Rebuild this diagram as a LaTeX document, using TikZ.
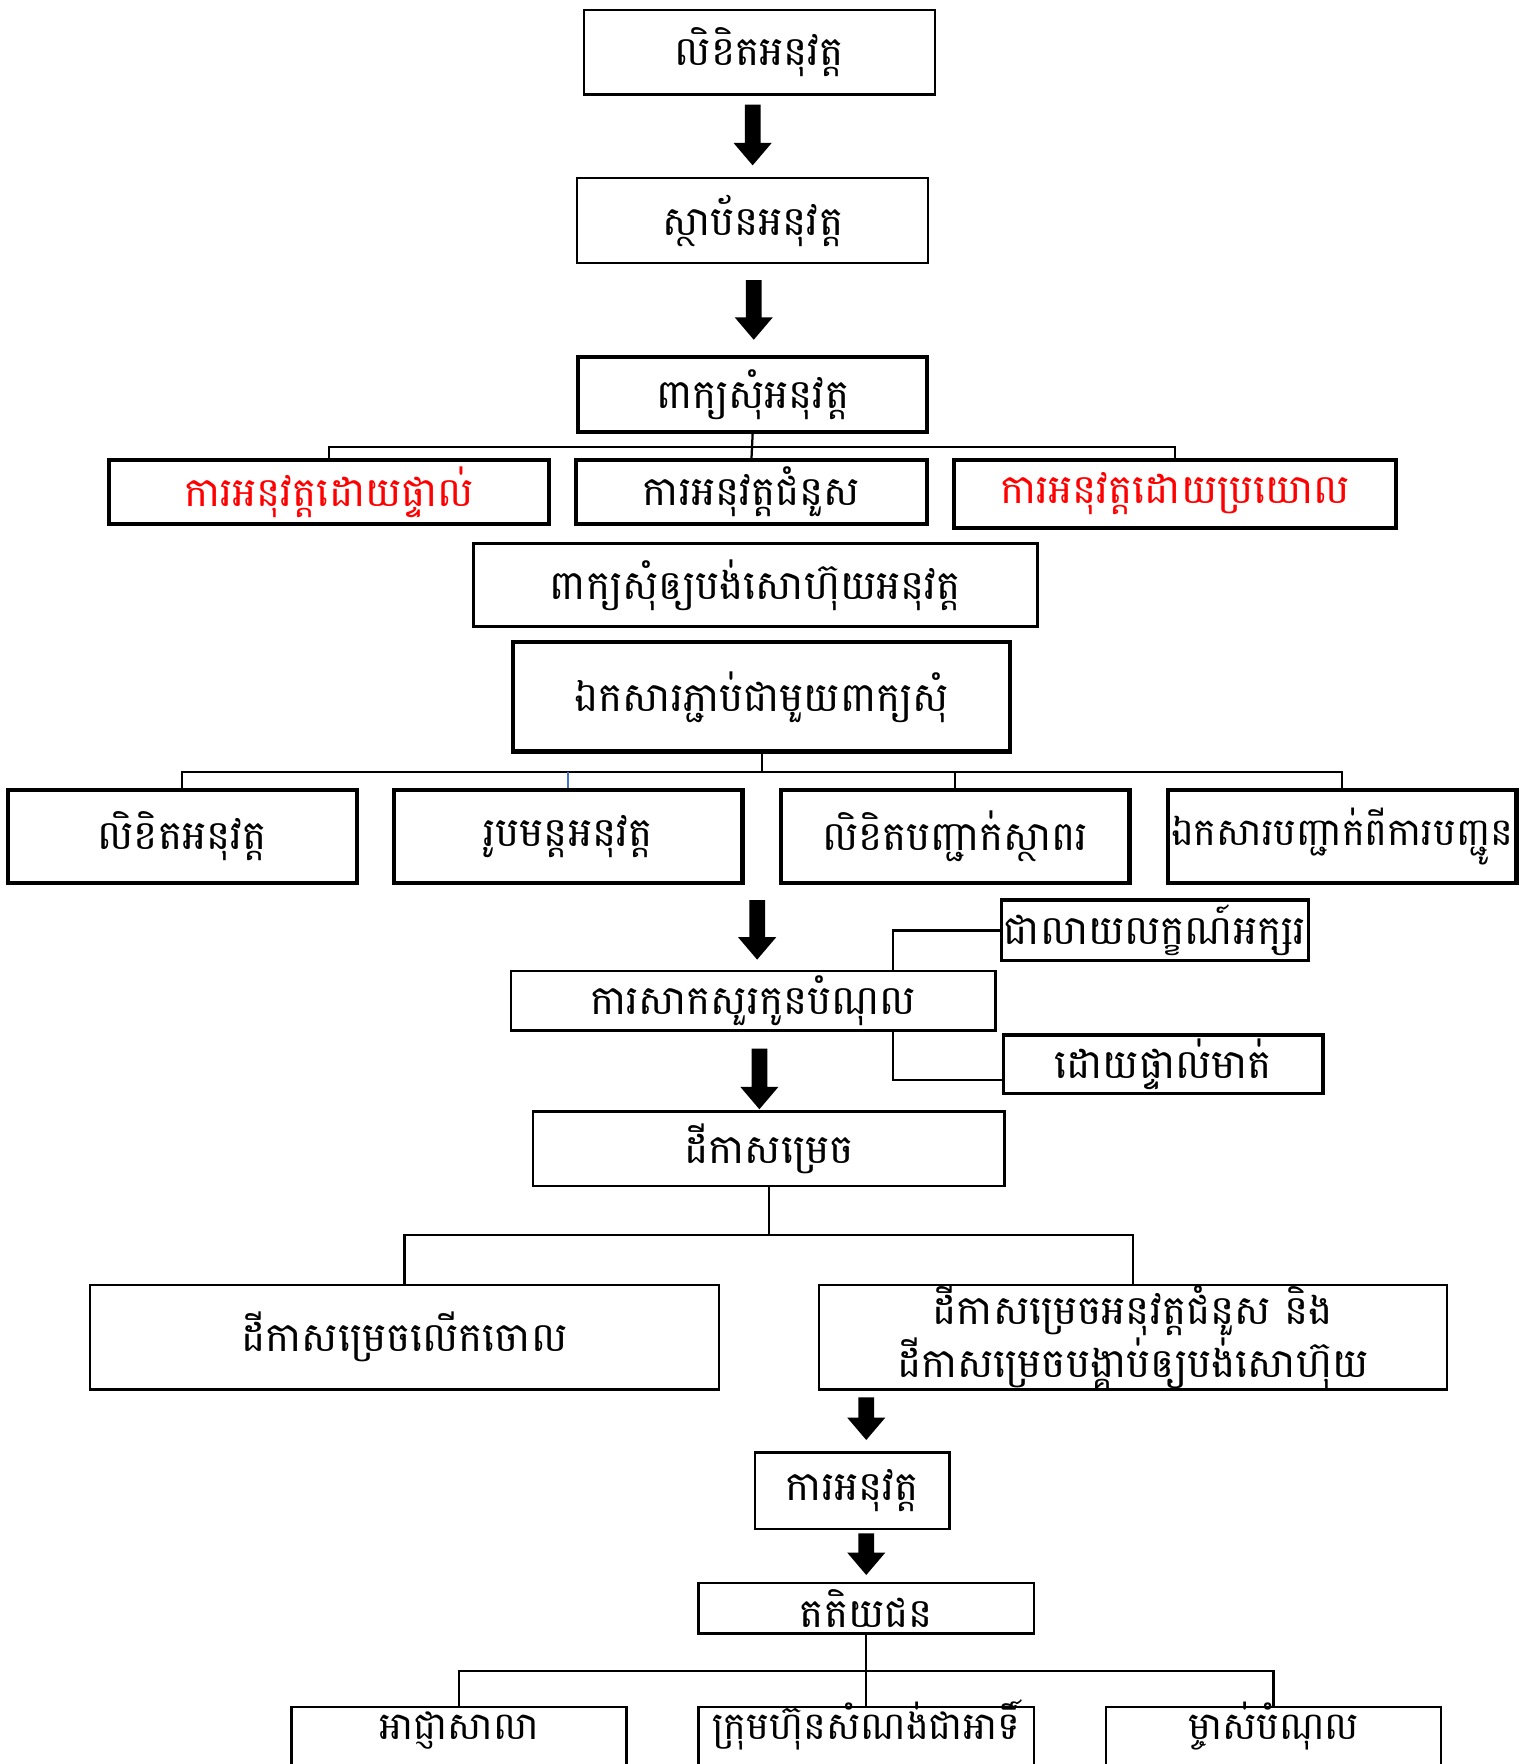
\documentclass[tikz,border=0pt]{standalone}
\usepackage{fontspec}
\newfontfamily\kh[Script=Khmer]{Battambang}
\usetikzlibrary{calc}
\definecolor{kred}{RGB}{255,0,0}
\definecolor{kblue}{RGB}{68,114,196}
\tikzset{
  box/.style={draw=black, line width=1.1pt, fill=white, inner sep=0pt, align=center,
              font=\kh\fontsize{18}{23.5}\selectfont},
  thickbox/.style={box, line width=1.8pt},
  midbox/.style={box, line width=1.4pt},
  conn/.style={draw=black, line width=1pt},
  redtext/.style={text=kred},
}
\newcommand{\blkarrow}[3]{% x, ytop, ybottom
  \fill[black] (#1-7,#2) -- (#1+7,#2) -- (#1+7,#3-20) -- (#1+17,#3-20) -- (#1,#3) -- (#1-17,#3-20) -- (#1-7,#3-20) -- cycle;}
\begin{document}
\begin{tikzpicture}[x=0.5pt,y=-0.5pt]
\useasboundingbox (0,0) rectangle (1360,1568);
\clip (0,0) rectangle (1360,1568);
% top chain
\node[box, minimum width=156pt, minimum height=37.5pt] (A) at (675,46.5) {លិខិតអនុវត្ត};
\node[box, minimum width=156pt, minimum height=38pt] (B) at (669,196) {ស្ថាប័នអនុវត្ត};
\node[thickbox, minimum width=155pt, minimum height=33.5pt] (C) at (669,350.5) {ពាក្យសុំអនុវត្ត};
\blkarrow{669}{93}{147}
\blkarrow{670}{249}{302}
% three types
\node[thickbox, redtext, minimum width=195.5pt, minimum height=28.5pt] (D1) at (292.5,437.5) {ការអនុវត្តដោយផ្ទាល់};
\node[thickbox, minimum width=156pt, minimum height=28.5pt] (D2) at (668,437.5) {ការអនុវត្តជំនួស};
\node[thickbox, redtext, minimum width=196.5pt, minimum height=30pt] (D3) at (1044.5,439) {ការអនុវត្តដោយប្រយោល};
\coordinate (yCD) at (0,397);
\draw[conn] (C.south) -- (D2.north);
\draw[conn] (D1.north) -- (D1.north |- yCD) -- (D3.north |- yCD) -- (D3.north);
% request for fee
\node[box, minimum width=250.5pt, minimum height=37pt] (E) at (671.5,520) {ពាក្យសុំឲ្យបង់សោហ៊ុយអនុវត្ត};
\node[thickbox, minimum width=221pt, minimum height=48.5pt] (F) at (677,619.5) {ឯកសារភ្ជាប់ជាមួយពាក្យសុំ};
% attachments
\node[thickbox, minimum width=155pt, minimum height=41.5pt] (G1) at (162,743.5) {លិខិតអនុវត្ត};
\node[thickbox, minimum width=155pt, minimum height=41.5pt] (G2) at (505,743.5) {រូបមន្តអនុវត្ត};
\node[thickbox, minimum width=155pt, minimum height=41.5pt] (G3) at (849,743.5) {លិខិតបញ្ជាក់ស្ថាពរ};
\node[thickbox, minimum width=155pt, minimum height=41.5pt, font=\kh\fontsize{17}{23.5}\selectfont] (G4) at (1193,743.5) {ឯកសារបញ្ជាក់ពីការបញ្ជូន};
\coordinate (yFG) at (0,686);
\draw[conn] (F.south) -- (F.south |- yFG);
\draw[conn] (G1.north) -- (G1.north |- yFG) -- (G4.north |- yFG) -- (G4.north);
\draw[conn] (G3.north) -- (G3.north |- yFG);
\draw[draw=kblue, line width=0.6pt] (G2.north) -- (G2.north |- yFG);
% questioning
\blkarrow{673}{800}{853}
\node[box, minimum width=215.5pt, minimum height=26.5pt] (H) at (669.5,889.5) {ការសាកសួរកូនបំណុល};
\node[midbox, minimum width=136.5pt, minimum height=27pt] (H1) at (1026.5,827) {ជាលាយលក្ខណ៍អក្សរ};
\node[midbox, minimum width=142pt, minimum height=26pt] (H2) at (1034,946) {ដោយផ្ទាល់មាត់};
\coordinate (xH) at (794,0);
\coordinate (yH2) at (0,960);
\draw[conn] (H1.west) -| (H.north -| xH);
\draw[conn] (H.south -| xH) |- (H2.west |- yH2);
% decision
\blkarrow{675}{932}{986}
\node[box, minimum width=209.5pt, minimum height=33pt] (I) at (683.5,1021) {ដីកាសម្រេច};
\node[box, minimum width=279.5pt, minimum height=46.5pt] (J1) at (359.5,1188.5) {ដីកាសម្រេចលើកចោល};
\node[box, minimum width=279pt, minimum height=46.5pt] (J2) at (1007,1188.5) {ដីកាសម្រេចអនុវត្តជំនួស និង\\ដីកាសម្រេចបង្គាប់ឲ្យបង់សោហ៊ុយ};
\coordinate (yIJ) at (0,1098);
\draw[conn] (I.south) -- (I.south |- yIJ);
\draw[conn] (J1.north) -- (J1.north |- yIJ) -- (J2.north |- yIJ) -- (J2.north);
% enforcement
\blkarrow{770}{1242}{1280}
\node[box, minimum width=86.5pt, minimum height=34pt] (K) at (757.5,1325) {ការអនុវត្ត};
\blkarrow{770}{1363}{1400}
\node[box, minimum width=149pt, minimum height=22.5pt] (L) at (770,1429.5) {តតិយជន};
% third parties (cut by the page bottom)
\tikzset{mbox/.style={box, minimum width=149pt, text height=14.5pt, text depth=20pt, anchor=north,
                      font=\kh\fontsize{17}{23.5}\selectfont}}
\node[mbox] (M1) at (408,1516) {អាជ្ញាសាលា};
\node[mbox] (M2) at (770,1516) {ក្រុមហ៊ុនសំណង់ជាអាទិ៍};
\node[mbox] (M3) at (1132,1516) {ម្ចាស់បំណុល};
\coordinate (yLM) at (0,1485);
\draw[conn] (L.south) -- (M2.north);
\draw[conn] (M1.north) -- (M1.north |- yLM) -- (M3.north |- yLM) -- (M3.north);
\end{tikzpicture}
\end{document}
